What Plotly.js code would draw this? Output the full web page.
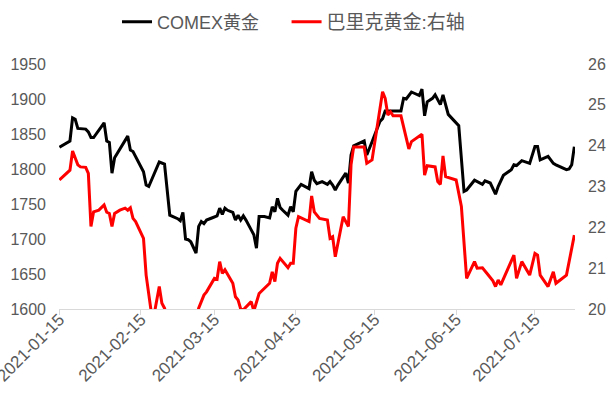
<!DOCTYPE html>
<html>
<head>
<meta charset="utf-8">
<script src="https://cdn.plot.ly/plotly-3.0.1.min.js"></script>
<style>html,body{margin:0;padding:0;background:#fff;}#chart{width:611px;height:400px;}</style>
</head>
<body>
<div id="chart"></div>
<script>
// COMEX gold (left axis)
const comexDates = ['2021-01-15','2021-01-19','2021-01-20','2021-01-21','2021-01-22','2021-01-25','2021-01-26','2021-01-27','2021-01-28','2021-02-01','2021-02-02','2021-02-03','2021-02-04','2021-02-05','2021-02-10','2021-02-11','2021-02-12','2021-02-16','2021-02-17','2021-02-18','2021-02-22','2021-02-23','2021-02-24','2021-02-26','2021-03-01','2021-03-02','2021-03-03','2021-03-04','2021-03-05','2021-03-06','2021-03-08','2021-03-09','2021-03-10','2021-03-11','2021-03-12','2021-03-14','2021-03-16','2021-03-17','2021-03-18','2021-03-19','2021-03-20','2021-03-22','2021-03-23','2021-03-24','2021-03-25','2021-03-26','2021-03-27','2021-03-29','2021-03-30','2021-03-31','2021-04-01','2021-04-03','2021-04-05','2021-04-06','2021-04-07','2021-04-08','2021-04-09','2021-04-10','2021-04-12','2021-04-13','2021-04-14','2021-04-15','2021-04-17','2021-04-20','2021-04-21','2021-04-22','2021-04-23','2021-04-25','2021-04-27','2021-04-28','2021-04-29','2021-04-30','2021-05-01','2021-05-04','2021-05-05','2021-05-06','2021-05-07','2021-05-11','2021-05-12','2021-05-14','2021-05-17','2021-05-18','2021-05-19','2021-05-25','2021-05-26','2021-05-27','2021-05-29','2021-06-01','2021-06-02','2021-06-03','2021-06-04','2021-06-06','2021-06-07','2021-06-09','2021-06-10','2021-06-12','2021-06-16','2021-06-17','2021-06-18','2021-06-19','2021-06-22','2021-06-25','2021-06-26','2021-06-28','2021-06-30','2021-07-01','2021-07-03','2021-07-06','2021-07-07','2021-07-08','2021-07-10','2021-07-13','2021-07-15','2021-07-16','2021-07-17','2021-07-20','2021-07-22','2021-07-23','2021-07-27','2021-07-28','2021-07-29','2021-07-30'];
const comexValues = [1831,1840,1873,1871,1858,1857,1853,1845,1845,1866,1840,1838,1794,1816,1847,1827,1825,1796,1777,1775,1810,1808,1807,1734,1729,1726,1738,1700,1699,1696,1680,1718,1725,1722,1727,1730,1733,1744,1735,1744,1741,1738,1727,1734,1727,1733,1727,1713,1706,1687,1732,1732,1730,1746,1739,1758,1745,1741,1734,1746,1739,1768,1778,1772,1796,1784,1779,1782,1778,1782,1777,1770,1777,1794,1780,1820,1833,1840,1820,1839,1868,1872,1883,1883,1901,1900,1910,1905,1914,1876,1896,1901,1906,1892,1906,1878,1862,1815,1768,1770,1784,1778,1783,1780,1764,1775,1791,1799,1806,1805,1812,1808,1832,1832,1813,1818,1808,1806,1799,1800,1806,1832];

// Barrick Gold (right axis)
const barrickDates = ['2021-01-15','2021-01-19','2021-01-20','2021-01-22','2021-01-23','2021-01-25','2021-01-26','2021-01-27','2021-01-28','2021-01-30','2021-02-01','2021-02-02','2021-02-03','2021-02-04','2021-02-05','2021-02-07','2021-02-09','2021-02-10','2021-02-11','2021-02-12','2021-02-13','2021-02-16','2021-02-17','2021-02-19','2021-02-20','2021-02-22','2021-02-23','2021-02-24','2021-02-26','2021-03-01','2021-03-03','2021-03-05','2021-03-08','2021-03-09','2021-03-11','2021-03-12','2021-03-15','2021-03-16','2021-03-17','2021-03-18','2021-03-19','2021-03-22','2021-03-23','2021-03-24','2021-03-25','2021-03-26','2021-03-29','2021-03-30','2021-04-01','2021-04-03','2021-04-05','2021-04-06','2021-04-07','2021-04-08','2021-04-09','2021-04-12','2021-04-13','2021-04-14','2021-04-15','2021-04-16','2021-04-20','2021-04-21','2021-04-22','2021-04-24','2021-04-27','2021-04-28','2021-04-29','2021-04-30','2021-05-03','2021-05-05','2021-05-06','2021-05-07','2021-05-11','2021-05-12','2021-05-14','2021-05-18','2021-05-19','2021-05-20','2021-05-21','2021-05-22','2021-05-25','2021-05-28','2021-05-29','2021-06-02','2021-06-03','2021-06-04','2021-06-07','2021-06-08','2021-06-09','2021-06-10','2021-06-11','2021-06-15','2021-06-17','2021-06-19','2021-06-22','2021-06-23','2021-06-25','2021-06-27','2021-06-29','2021-06-30','2021-07-01','2021-07-02','2021-07-07','2021-07-08','2021-07-10','2021-07-13','2021-07-15','2021-07-16','2021-07-17','2021-07-20','2021-07-22','2021-07-23','2021-07-27','2021-07-30'];
const barrickValues = [23.16,23.40,23.87,23.53,23.48,23.47,23.32,22.02,22.38,22.42,22.55,22.37,22.34,22.02,22.34,22.42,22.47,22.42,22.48,22.22,22.14,21.73,20.83,19.90,19.85,20.55,20.14,20.02,19.60,19.70,19.50,19.40,19.70,20.02,20.34,20.42,20.75,20.73,21.16,20.87,20.96,20.63,20.30,20.22,20.00,19.98,20.18,19.95,20.38,20.51,20.63,20.91,20.67,21.12,21.24,21.01,21.12,21.12,21.98,22.26,22.14,22.77,22.38,22.22,22.18,21.73,21.77,21.28,22.26,22.02,23.53,23.97,23.97,23.57,23.65,25.32,25.16,24.75,24.83,24.73,24.73,23.92,24.10,24.28,23.28,23.51,23.48,23.12,23.05,23.75,23.24,23.16,22.51,20.75,21.16,21.00,21.01,20.85,20.69,20.55,20.71,20.59,21.32,20.75,21.16,20.83,21.36,21.32,20.83,20.55,20.91,20.63,20.83,21.81];

const tickDates = ['2021-01-15','2021-02-15','2021-03-15','2021-04-15','2021-05-15','2021-06-15','2021-07-15'];
const seriesNames = ['COMEX黄金','巴里克黄金:右轴'];

const FONT = 'Liberation Sans Narrow, Liberation Sans, Noto Sans CJK SC, sans-serif';
const GREY = '#595959';
const TICKSIZE = 16;

const traces = [
  {x: comexDates, y: comexValues, name: seriesNames[0], type: 'scatter', mode: 'lines',
   line: {color: '#000000', width: 3}, yaxis: 'y', legend: 'legend'},
  {x: barrickDates, y: barrickValues, name: seriesNames[1], type: 'scatter', mode: 'lines',
   line: {color: '#ff0000', width: 3}, yaxis: 'y2', legend: 'legend2'}
];

const layout = {
  width: 611, height: 400,
  margin: {l: 59, r: 36, t: 64, b: 91},
  paper_bgcolor: '#ffffff', plot_bgcolor: '#ffffff',
  font: {family: FONT, size: TICKSIZE, color: GREY},
  showlegend: true,
  legend: {orientation: 'h', xref: 'container', yref: 'container', x: 0.1915, y: 0.945,
           xanchor: 'left', yanchor: 'middle', font: {family: FONT, size: 18, color: GREY}, bgcolor: 'rgba(0,0,0,0)'},
  legend2: {orientation: 'h', xref: 'container', yref: 'container', x: 0.469, y: 0.945,
           xanchor: 'left', yanchor: 'middle', font: {family: FONT, size: 19, color: GREY}, bgcolor: 'rgba(0,0,0,0)'},
  xaxis: {type: 'date', range: ['2021-01-14 20:00', '2021-07-30 06:00'], tickvals: tickDates,
          tickformat: '%Y-%m-%d', tickangle: -45, showline: true, linecolor: '#d9d9d9', linewidth: 1,
          ticks: 'outside', ticklen: 5, tickcolor: '#d9d9d9', showgrid: false, zeroline: false,
          ticklabelstandoff: -12, ticklabeloverflow: 'allow',
          tickfont: {family: FONT, size: 17, color: GREY}},
  yaxis: {range: [1600, 1950], tick0: 1600, dtick: 50, showline: false, showgrid: false, zeroline: false,
          ticks: '', ticklabelstandoff: 12, tickfont: {family: FONT, size: TICKSIZE, color: GREY}},
  yaxis2: {range: [20, 26], tick0: 20, dtick: 1, overlaying: 'y', side: 'right', showline: false,
           showgrid: false, zeroline: false, ticks: '', ticklabelstandoff: 12,
           tickfont: {family: FONT, size: TICKSIZE, color: GREY}}
};

Plotly.newPlot('chart', traces, layout, {staticPlot: true, displayModeBar: false});
</script>
</body>
</html>
